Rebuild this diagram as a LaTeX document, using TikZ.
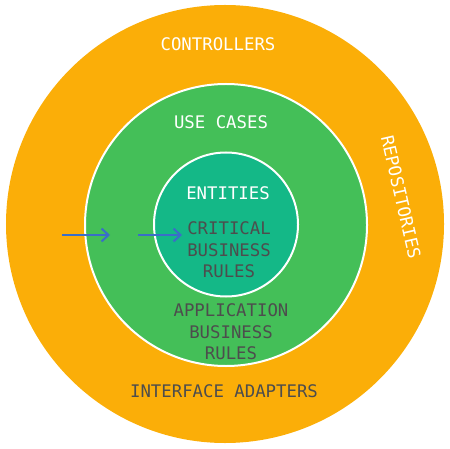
\documentclass[tikz,border=0pt]{standalone}
\usepackage{fontspec}
\setmonofont{DejaVu Sans Mono}
\usetikzlibrary{positioning,arrows.meta}
\definecolor{adapterorange}{RGB}{251,174,8}
\definecolor{usecasegreen}{RGB}{68,191,88}
\definecolor{entityteal}{RGB}{20,184,135}
\definecolor{ringtext}{RGB}{77,77,77}
\definecolor{flowblue}{RGB}{58,110,200}

\begin{document}
\begin{tikzpicture} [x=1bp, y=-1bp, ring/.style={circle, inner
          sep=0, draw=white, line width=2bp}, layer/.style={font=\ttfamily
          \fontsize{17.4}{21.5}\selectfont, align=center, inner sep=0},
          flow/.style={draw=flowblue, line width=2bp,
          -{Straight Barb[length=7bp, width=13bp, line width=2bp]}}]
  \useasboundingbox (0,0) rectangle (450,449);
  \node[ring, draw=none, fill=adapterorange, minimum size=438bp]
    (adapters) at (225,224) {};
  \node[ring, fill=usecasegreen, minimum size=282bp] (usecases) at
    (226,225) {};
  \node[ring, fill=entityteal, minimum size=144bp] (entities) at
    (226,224.5) {};
  \node[layer, text=white] (controllers) at (218,44) {CONTROLLERS};
  \node[layer, text=white, rotate=-77] (repositories) at (401,197)
    {REPOSITORIES};
  \node[layer, text=white] (usecasetitle) at (221,122) {USE CASES};
  \node[layer, text=white] (entitytitle) at (228,193) {ENTITIES};
  \node[layer, text=ringtext] (critical) at (229,250)
    {CRITICAL\\BUSINESS\\RULES};
  \node[layer, text=ringtext] (application) at (231,332)
    {APPLICATION\\BUSINESS\\RULES};
  \node[layer, text=ringtext] (adaptertitle) at (224,391)
    {INTERFACE ADAPTERS};
  \coordinate (outerstart) at (62,235);
  \coordinate (outerend) at (110,235);
  \coordinate (innerstart) at (138,235);
  \coordinate (innerend) at (182,235);
  \draw[flow] (outerstart) -- (outerend);
  \draw[flow] (innerstart) -- (innerend);
\end{tikzpicture}
\end{document}
